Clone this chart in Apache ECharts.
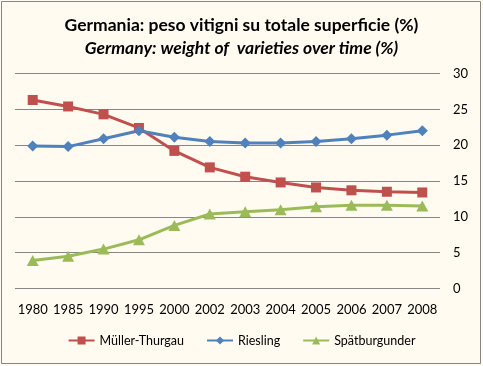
<!DOCTYPE html>
<html><head><meta charset="utf-8">
<script src="https://cdn.jsdelivr.net/npm/echarts@6/dist/echarts.min.js"></script>
<style>
html,body{margin:0;padding:0;background:#fff;}
#c{width:483px;height:366px;}
</style></head>
<body><div id="c"></div>
<script>
const years = ['1980','1985','1990','1995','2000','2002','2003','2004','2005','2006','2007','2008'];
const muller = [26.3,25.4,24.3,22.4,19.2,16.9,15.6,14.8,14.1,13.7,13.5,13.4];
const riesling = [19.9,19.8,20.9,22.0,21.1,20.5,20.3,20.3,20.5,20.9,21.4,22.0];
const spat = [3.9,4.5,5.5,6.8,8.8,10.4,10.7,11.0,11.4,11.6,11.6,11.5];
const yTicks = [0,5,10,15,20,25,30];
const FONT = 'Lato';
const chart = echarts.init(document.getElementById('c'));
chart.setOption({
  backgroundColor: '#FFFBF0',
  animation: false,
  textStyle: {fontFamily: FONT},
  graphic: [{type:'rect', shape:{x:1.5,y:1.5,width:479,height:362}, style:{fill:'none', stroke:'#868686', lineWidth:1}}],
  title: {
    text: 'Germania: peso vitigni su totale superficie (%)',
    subtext: 'Germany: weight of  varieties over time (%)',
    left: 'center', top: 11, itemGap: 5,
    textStyle: {fontFamily: FONT, fontSize: 17.5, fontWeight: 'bold', color: '#000'},
    subtextStyle: {fontFamily: FONT, fontSize: 17.5, fontWeight: 'bold', fontStyle: 'italic', color: '#000'}
  },
  grid: {left: 15, right: 43, top: 73.5, bottom: 77.5, containLabel: false},
  legend: {
    bottom: 14, left: 'center', itemWidth: 26, itemHeight: 10, itemGap: 22,
    textStyle: {fontFamily: FONT, fontSize: 12.5, color: '#000'},
    data: ['Müller-Thurgau','Riesling','Spätburgunder']
  },
  xAxis: {
    type: 'category', data: years, boundaryGap: true,
    axisLine: {show: false}, axisTick: {show: false},
    axisLabel: {color: '#000', fontSize: 13, margin: 15, interval: 0}
  },
  yAxis: {
    type: 'value', position: 'right', min: yTicks[0], max: yTicks[yTicks.length-1], interval: 5,
    axisLine: {show: false}, axisTick: {show: false},
    axisLabel: {color: '#000', fontSize: 13, margin: 13},
    splitLine: {lineStyle: {color: '#868686', width: 1}}
  },
  series: [
    {name: 'Müller-Thurgau', type: 'line', data: muller, symbol: 'rect', symbolSize: 10,
     lineStyle: {width: 3, color: '#C0504D'}, itemStyle: {color: '#C0504D'}},
    {name: 'Riesling', type: 'line', data: riesling, symbol: 'diamond', symbolSize: [11,11],
     lineStyle: {width: 3, color: '#4F81BD'}, itemStyle: {color: '#4F81BD'}},
    {name: 'Spätburgunder', type: 'line', data: spat, symbol: 'triangle', symbolSize: [12,11],
     lineStyle: {width: 3, color: '#9BBB59'}, itemStyle: {color: '#9BBB59'}}
  ]
});
</script></body></html>
